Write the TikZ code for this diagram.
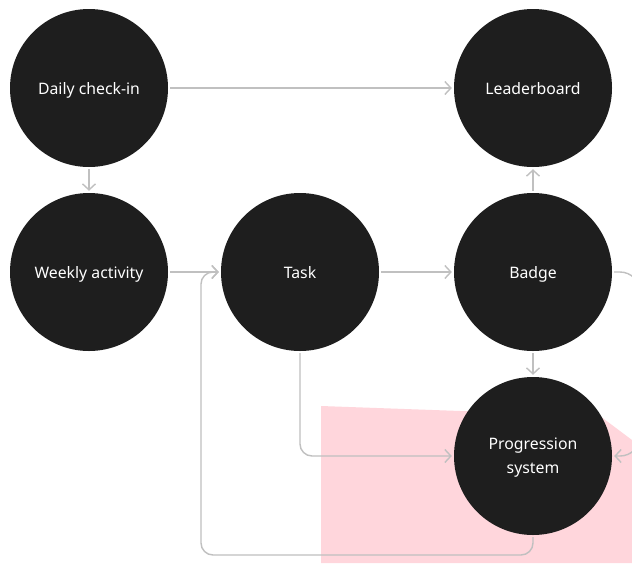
\documentclass[tikz,border=0pt]{standalone}
\usepackage{fontspec}
\setmainfont{Noto Sans}
\usepackage{tikz}
\usetikzlibrary{arrows.meta}
\definecolor{bubblefill}{RGB}{30, 30, 30}
\definecolor{linegray}{RGB}{192, 192, 192}
\definecolor{softpink}{RGB}{255, 214, 220}

\tikzset{
    bubble/.style={circle, fill=bubblefill, minimum size=158pt, inner sep=0pt,
        text=white, align=center, text depth=0pt, font=\fontsize{15.8}{24}\selectfont},
    flowline/.style={draw=linegray, line width=1.4pt, rounded corners=12pt,
        -{Straight Barb[length=6pt, width=13pt, line width=1.4pt]}, shorten >=2pt, shorten <=2pt}
}

\begin{document}
\begin{tikzpicture}[x=1pt, y=-1pt]
    \clip (0,0) rectangle (632,563);
    \fill[white] (0,0) rectangle (632,563);

    % highlighted area behind the progression system
    \fill[softpink] (321,406) -- (600,416) -- (632,440) -- (632,563) -- (321,563) -- cycle;

    \node[bubble] (daily) at (89,88) {Daily check-in};
    \node[bubble] (leader) at (533,88) {Leaderboard};
    \node[bubble] (weekly) at (89,272) {Weekly activity};
    \node[bubble] (task) at (300,272) {Task};
    \node[bubble] (badge) at (533,272) {Badge};
    \node[bubble] (progress) at (533,456) {Progression\\system};

    \draw[flowline] (daily) -- (leader);
    \draw[flowline] (daily) -- (weekly);
    \draw[flowline] (weekly) -- (task);
    \draw[flowline] (task) -- (badge);
    \draw[flowline] (badge) -- (leader);
    \draw[flowline] (badge) -- (progress);
    \draw[flowline] (task.south) -- (300,456) -- (progress.west);
    \draw[flowline] (progress.south) -- (533,555) -- (201,555) -- (201,272) -- (task.west);
    \draw[flowline, rounded corners=20pt] (badge.east) -- (640,272) -- (640,456) -- (progress.east);
\end{tikzpicture}
\end{document}
